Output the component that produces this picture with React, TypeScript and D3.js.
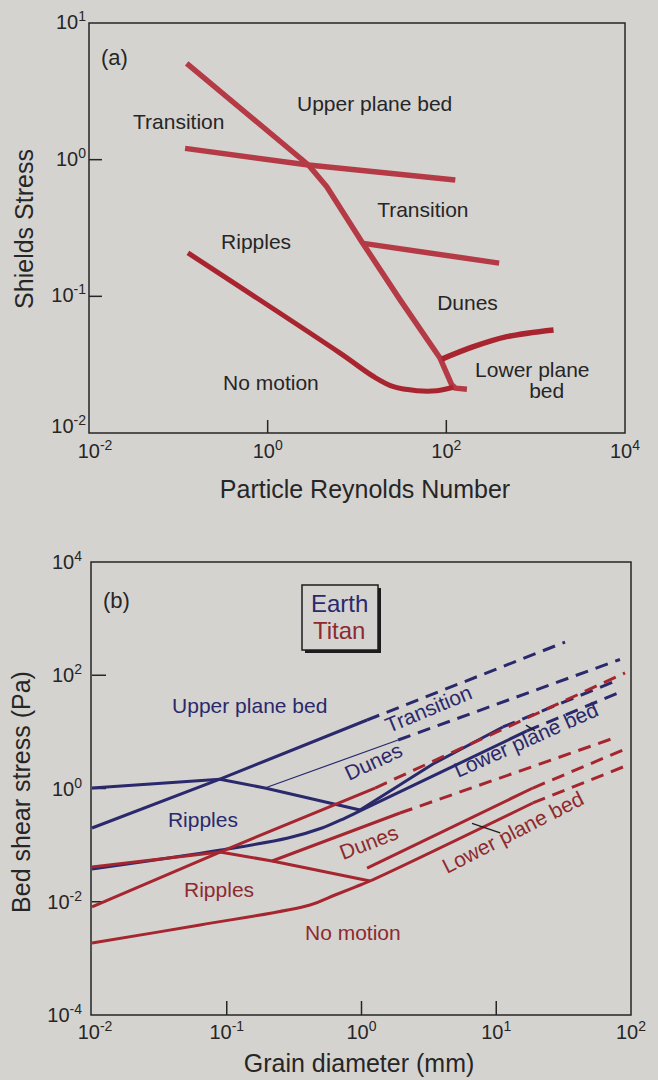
import React from 'react';
import * as d3 from 'd3';

type Pt = [number, number];

// ---- panel (a): Shields stress vs particle Reynolds number ----
const aSteepBoundary: Pt[] = [[0.124, 5.07], [2.86, 0.914], [4.59, 0.634], [11.3, 0.251], [30.4, 0.0942], [85.3, 0.0352], [115, 0.0225], [126, 0.0213], [170, 0.0209]];
const aTransitionTop: Pt[] = [[0.119, 1.21], [2.86, 0.914], [126, 0.711]];
const aTransitionBottom: Pt[] = [[11.8, 0.244], [390, 0.175]];
const aThreshold: Pt[] = [[0.128, 0.208], [6.47, 0.0384], [15.3, 0.0259], [25.6, 0.0218], [46.8, 0.0204], [78.3, 0.0204], [120, 0.0216]];
const aLowerPlane: Pt[] = [[89, 0.0347], [201, 0.0428], [475, 0.0507], [1585, 0.0568]];

const aXTicks = [1e-2, 1, 1e2, 1e4];
const aXExp = ['-2', '0', '2', '4'];
const aYTicks = [1e1, 1, 1e-1, 1e-2];
const aYExp = ['1', '0', '-1', '-2'];
const aInnerX = [1, 1e2];
const aInnerY = [1, 1e-1];

const aLabels = [
  { text: 'Upper plane bed', x: 2.13, y: 2.27 },
  { text: 'Transition', x: 0.0311, y: 1.68 },
  { text: 'Transition', x: 16.8, y: 0.381 },
  { text: 'Ripples', x: 0.301, y: 0.222 },
  { text: 'Dunes', x: 78.9, y: 0.0795 },
  { text: 'No motion', x: 0.317, y: 0.0207 },
  { text: 'Lower plane', x: 210, y: 0.0256 },
  { text: 'bed', x: 845, y: 0.0180 },
];

// ---- panel (b): bed shear stress vs grain diameter, Earth and Titan ----
const earthUpper: Pt[] = [[0.01, 0.2006], [0.089, 1.46], [1.1, 16.2]];
const earthUpperDash: Pt[] = [[1.1, 16.2], [32.4, 386]];
const earthRipple: Pt[] = [[0.01, 1.02], [0.089, 1.46], [0.192, 1.02], [0.975, 0.417]];
const earthDuneTop: Pt[] = [[0.192, 1.02], [1.87, 7.19]];
const earthDuneTopDash: Pt[] = [[1.87, 7.19], [82.8, 190]];
const earthLowerPlane: Pt[] = [[0.975, 0.417], [3.39, 2.71], [11.2, 12.2]];
const earthLowerPlaneDash: Pt[] = [[11.2, 12.2], [80.1, 82.4]];
const earthThreshold: Pt[] = [[0.01, 0.0379], [0.0906, 0.082], [0.285, 0.1336], [0.509, 0.2006], [0.755, 0.301], [0.975, 0.401], [16.9, 10.4]];
const earthThresholdDash: Pt[] = [[16.9, 10.4], [87.2, 52.7]];
const earthPointer: Pt[] = [[16.6, 13.2], [19.4, 10.4]];

const titanUpper: Pt[] = [[0.01, 0.00808], [0.0891, 0.0756], [1.26, 1.02]];
const titanUpperDash: Pt[] = [[1.26, 1.02], [90.3, 110]];
const titanRipple: Pt[] = [[0.01, 0.0411], [0.0891, 0.0756], [0.217, 0.0524], [1.156, 0.0233]];
const titanDuneTop: Pt[] = [[0.217, 0.0524], [1.93, 0.369]];
const titanDuneTopDash: Pt[] = [[1.93, 0.369], [78.7, 8.12]];
const titanLowerPlane: Pt[] = [[1.1, 0.0394], [18.7, 1.02]];
const titanLowerPlaneDash: Pt[] = [[18.7, 1.02], [87.2, 4.79]];
const titanThreshold: Pt[] = [[0.01, 0.00187], [0.0633, 0.00389], [0.415, 0.00876], [0.636, 0.01316], [0.895, 0.0182], [1.156, 0.02325], [18.7, 0.555]];
const titanThresholdDash: Pt[] = [[18.7, 0.555], [87.2, 2.4]];
const titanPointer: Pt[] = [[6.61, 0.243], [10.7, 0.164]];

const bXTicks = [1e-2, 1e-1, 1, 1e1, 1e2];
const bXExp = ['-2', '-1', '0', '1', '2'];
const bYTicks = [1e4, 1e2, 1, 1e-2, 1e-4];
const bYExp = ['4', '2', '0', '-2', '-4'];
const bInnerX = [1e-1, 1, 1e1];
const bInnerY = [1e2, 1, 1e-2];

const BLUE = '#2a296c';
const RED = '#a5262e';
const RED_TEXT = '#8e2a2f';

const bLabels = [
  { text: 'Upper plane bed', x: 0.0393, y: 21.5, color: BLUE, rot: 0 },
  { text: 'Ripples', x: 0.0366, y: 0.209, color: BLUE, rot: 0 },
  { text: 'Dunes', x: 0.808, y: 1.357, color: BLUE, rot: -25 },
  { text: 'Transition', x: 1.6, y: 9.55, color: BLUE, rot: -22.5 },
  { text: 'Lower plane bed', x: 5.2, y: 1.53, color: BLUE, rot: -24 },
  { text: 'Ripples', x: 0.0482, y: 0.01213, color: RED_TEXT, rot: 0 },
  { text: 'Dunes', x: 0.73, y: 0.0546, color: RED_TEXT, rot: -21 },
  { text: 'Lower plane bed', x: 4.31, y: 0.0309, color: RED_TEXT, rot: -27 },
  { text: 'No motion', x: 0.381, y: 0.00211, color: RED_TEXT, rot: 0 },
];

const FONT = "'Liberation Sans', Arial, Helvetica, sans-serif";
const BG = '#d5d3d0';
const INK = '#262626';

function Pow({ x, y, exp, anchor }: { x: number; y: number; exp: string; anchor: string }) {
  return (
    <text x={x} y={y} textAnchor={anchor} fontSize={20} fill={INK}>
      10<tspan dy={-8} fontSize={14}>{exp}</tspan>
    </text>
  );
}

export default function App() {
  // scales for panel (a)
  const ax = d3.scaleLog().domain([1e-2, 1e4]).range([89, 625]);
  const ay = d3.scaleLog().domain([1e-2, 1e1]).range([433, 23]);
  const aLine = d3.line<Pt>().x(d => ax(d[0])).y(d => ay(d[1]));
  const aCurve = d3.line<Pt>().x(d => ax(d[0])).y(d => ay(d[1])).curve(d3.curveCatmullRom.alpha(0.5));

  // scales for panel (b)
  const bx = d3.scaleLog().domain([1e-2, 1e2]).range([92, 631]);
  const by = d3.scaleLog().domain([1e-4, 1e4]).range([1015, 562]);
  const bLine = d3.line<Pt>().x(d => bx(d[0])).y(d => by(d[1]));
  const bCurve = d3.line<Pt>().x(d => bx(d[0])).y(d => by(d[1])).curve(d3.curveCatmullRom.alpha(0.5));

  const [ax0, ax1] = ax.range();
  const [ay0, ay1] = ay.range();
  const [bx0, bx1] = bx.range();
  const [by0, by1] = by.range();

  const dash = '13,8';

  return (
    <svg width={658} height={1080} style={{ position: 'absolute', left: 0, top: 0, display: 'block' }} fontFamily={FONT}>
      <rect width={658} height={1080} fill={BG} />

      {/* ---------- panel (a) ---------- */}
      <rect x={ax0} y={ay1} width={ax1 - ax0} height={ay0 - ay1} fill="none" stroke={INK} strokeWidth={1.5} />
      {aInnerX.map(v => <line key={'ax' + v} x1={ax(v)} x2={ax(v)} y1={ay0} y2={ay0 - 13} stroke={INK} strokeWidth={1.5} />)}
      {aInnerY.map(v => <line key={'ay' + v} x1={ax0} x2={ax0 + 13} y1={ay(v)} y2={ay(v)} stroke={INK} strokeWidth={1.5} />)}
      {aXTicks.map((v, i) => <Pow key={'axl' + v} x={ax(v) + (i === 0 ? 6 : 0)} y={ay0 + 25} exp={aXExp[i]} anchor="middle" />)}
      {aYTicks.map((v, i) => <Pow key={'ayl' + v} x={86} y={ay(v) + (i === aYTicks.length - 1 ? 0 : 6)} exp={aYExp[i]} anchor="end" />)}

      <g fill="none" strokeLinejoin="round">
        <path d={aLine(aSteepBoundary) || ''} stroke="#b43b45" strokeWidth={5.5} />
        <path d={aLine(aTransitionTop) || ''} stroke="#b43b45" strokeWidth={5.5} />
        <path d={aLine(aTransitionBottom) || ''} stroke="#b43b45" strokeWidth={5.5} />
        <path d={aCurve(aThreshold) || ''} stroke="#a8242f" strokeWidth={5} />
        <path d={aCurve(aLowerPlane) || ''} stroke="#a8242f" strokeWidth={5.5} />
      </g>

      <text x={ax0 + 12} y={ay1 + 42} fontSize={22} fill={INK}>(a)</text>
      {aLabels.map((l, i) => (
        <text key={'al' + i} x={ax(l.x)} y={ay(l.y)} fontSize={21} fill={INK}>{l.text}</text>
      ))}
      <text transform={`translate(33,${(ay0 + ay1) / 2 + 1}) rotate(-90)`} textAnchor="middle" fontSize={25} fill={INK}>Shields Stress</text>
      <text x={(ax0 + ax1) / 2 + 8} y={498} textAnchor="middle" fontSize={25} fill={INK}>Particle Reynolds Number</text>

      {/* ---------- panel (b) ---------- */}
      <rect x={bx0 - 1} y={by1} width={bx1 - bx0 + 1} height={by0 - by1} fill="none" stroke={INK} strokeWidth={1.5} />
      {bInnerX.map(v => <line key={'bx' + v} x1={bx(v)} x2={bx(v)} y1={by0} y2={by0 - 14} stroke={INK} strokeWidth={1.5} />)}
      {bInnerY.map(v => <line key={'by' + v} x1={bx0} x2={bx0 + 14} y1={by(v)} y2={by(v)} stroke={INK} strokeWidth={1.5} />)}
      {bXTicks.map((v, i) => <Pow key={'bxl' + v} x={bx(v) + (i === 0 ? 3 : 0)} y={by0 + 24} exp={bXExp[i]} anchor="middle" />)}
      {bYTicks.map((v, i) => <Pow key={'byl' + v} x={82} y={by(v) + 7} exp={bYExp[i]} anchor="end" />)}

      <g fill="none" strokeLinejoin="round">
        {/* Earth */}
        <path d={bLine(earthUpper) || ''} stroke={BLUE} strokeWidth={3} />
        <path d={bLine(earthUpperDash) || ''} stroke={BLUE} strokeWidth={3} strokeDasharray={dash} />
        <path d={bLine(earthRipple) || ''} stroke={BLUE} strokeWidth={3} />
        <path d={bLine(earthDuneTop) || ''} stroke={BLUE} strokeWidth={1.2} />
        <path d={bLine(earthDuneTopDash) || ''} stroke={BLUE} strokeWidth={3} strokeDasharray={dash} />
        <path d={bLine(earthLowerPlane) || ''} stroke={BLUE} strokeWidth={3} />
        <path d={bLine(earthLowerPlaneDash) || ''} stroke={BLUE} strokeWidth={3} strokeDasharray={dash} />
        <path d={bCurve(earthThreshold) || ''} stroke={BLUE} strokeWidth={3} />
        <path d={bLine(earthThresholdDash) || ''} stroke={BLUE} strokeWidth={3} strokeDasharray={dash} />
        <path d={bLine(earthPointer) || ''} stroke="#1e1e2a" strokeWidth={1.4} />
        {/* Titan */}
        <path d={bLine(titanUpper) || ''} stroke={RED} strokeWidth={3} />
        <path d={bLine(titanUpperDash) || ''} stroke={RED} strokeWidth={3} strokeDasharray={dash} />
        <path d={bLine(titanRipple) || ''} stroke={RED} strokeWidth={3} />
        <path d={bLine(titanDuneTop) || ''} stroke={RED} strokeWidth={3} />
        <path d={bLine(titanDuneTopDash) || ''} stroke={RED} strokeWidth={3} strokeDasharray={dash} />
        <path d={bLine(titanLowerPlane) || ''} stroke={RED} strokeWidth={3} />
        <path d={bLine(titanLowerPlaneDash) || ''} stroke={RED} strokeWidth={3} strokeDasharray={dash} />
        <path d={bCurve(titanThreshold) || ''} stroke={RED} strokeWidth={3} />
        <path d={bLine(titanThresholdDash) || ''} stroke={RED} strokeWidth={3} strokeDasharray={dash} />
        <path d={bLine(titanPointer) || ''} stroke="#1e1e1e" strokeWidth={1.4} />
      </g>

      {bLabels.map((l, i) => (
        <text key={'bl' + i} x={bx(l.x)} y={by(l.y)} fontSize={21} fill={l.color}
          transform={l.rot ? `rotate(${l.rot},${bx(l.x)},${by(l.y)})` : undefined}>{l.text}</text>
      ))}

      <text x={bx0 + 11} y={by1 + 46} fontSize={22} fill={INK}>(b)</text>

      {/* legend */}
      <g>
        <rect x={305} y={588} width={76} height={65} fill="#1c1c1c" />
        <rect x={302} y={585} width={76} height={65} fill={BG} stroke="#1c1c1c" strokeWidth={1.5} />
        <text x={311} y={612} fontSize={24} fill={BLUE}>Earth</text>
        <text x={313} y={639} fontSize={24} fill={RED_TEXT}>Titan</text>
      </g>

      <text transform={`translate(30,792) rotate(-90)`} textAnchor="middle" fontSize={25} fill={INK}>Bed shear stress (Pa)</text>
      <text x={359} y={1072} textAnchor="middle" fontSize={25} fill={INK}>Grain diameter (mm)</text>
    </svg>
  );
}
